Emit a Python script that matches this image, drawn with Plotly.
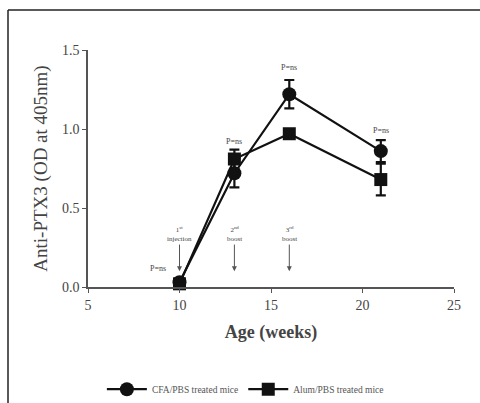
import plotly.graph_objects as go

weeks = [10, 13, 16, 21]
cfa_values = [0.03, 0.72, 1.22, 0.86]
cfa_errors = [0.02, 0.09, 0.09, 0.07]
alum_values = [0.02, 0.81, 0.97, 0.68]
alum_errors = [0.01, 0.06, 0.03, 0.10]
series_names = ["CFA/PBS treated mice", "Alum/PBS treated mice"]

p_labels = ["P=ns", "P=ns", "P=ns", "P=ns"]
p_label_x = [8.8, 13.0, 16.0, 21.0]
p_label_y = [0.12, 0.92, 1.39, 0.99]

event_weeks = [10, 13, 16]
event_labels = ["1<sup>st</sup><br>injection", "2<sup>nd</sup><br>boost", "3<sup>rd</sup><br>boost"]

x_ticks = [5, 10, 15, 20, 25]
y_ticks = [0.0, 0.5, 1.0, 1.5]

FONT = "Liberation Serif"

fig = go.Figure()
fig.add_trace(go.Scatter(
    x=weeks, y=cfa_values, name=series_names[0], mode="lines+markers",
    line=dict(color="#111", width=2.2),
    marker=dict(symbol="circle", size=14, color="#111"),
    error_y=dict(type="data", array=cfa_errors, color="#111", thickness=2.2, width=5),
    cliponaxis=False,
))
fig.add_trace(go.Scatter(
    x=weeks, y=alum_values, name=series_names[1], mode="lines+markers",
    line=dict(color="#111", width=2.2),
    marker=dict(symbol="square", size=13, color="#111"),
    error_y=dict(type="data", array=alum_errors, color="#111", thickness=2.2, width=5),
    cliponaxis=False,
))

annotations = []
for x, y, t in zip(p_label_x, p_label_y, p_labels):
    annotations.append(dict(x=x, y=y, xref="x", yref="y", text=t, showarrow=False,
                            font=dict(family=FONT, size=8, color="#444")))
for x, t in zip(event_weeks, event_labels):
    annotations.append(dict(x=x, y=0.10, ax=x, ay=0.335, xref="x", yref="y",
                            axref="x", ayref="y", text=t, showarrow=True,
                            font=dict(family=FONT, size=7, color="#444"),
                            arrowhead=2, arrowsize=1, arrowwidth=1, arrowcolor="#555"))

fig.update_layout(
    width=480, height=403,
    margin=dict(l=88, r=26, t=50, b=116, autoexpand=False),
    paper_bgcolor="white", plot_bgcolor="white",
    font=dict(family=FONT, color="#333"),
    showlegend=True,
    legend=dict(orientation="h", x=0.43, xanchor="center", y=-0.37, yanchor="top",
                font=dict(family=FONT, size=9.5, color="#555"), itemwidth=40,
                tracegroupgap=20),
    annotations=annotations,
    shapes=[
        dict(type="line", xref="paper", yref="paper",
             x0=(8 - 88) / 366, x1=(480 - 88) / 366,
             y0=(287 - 10) / 237, y1=(287 - 10) / 237,
             line=dict(color="#222", width=1.5)),
        dict(type="line", xref="paper", yref="paper",
             x0=(8 - 88) / 366, x1=(8 - 88) / 366,
             y0=(287 - 10) / 237, y1=(287 - 403) / 237,
             line=dict(color="#222", width=1.5)),
    ],
)
fig.update_xaxes(
    range=[5, 25], tickvals=x_ticks, showgrid=False, zeroline=False,
    showline=True, linecolor="#555", linewidth=1.5,
    ticks="outside", ticklen=4, tickcolor="#555",
    tickfont=dict(family=FONT, size=14, color="#444"),
    title=dict(text="<b>Age (weeks)</b>", font=dict(family=FONT, size=18, color="#444"), standoff=14),
)
fig.update_yaxes(
    range=[0, 1.5], tickvals=y_ticks, tickformat=".1f", showgrid=False, zeroline=False,
    showline=True, linecolor="#555", linewidth=1.5,
    ticks="outside", ticklen=4, tickcolor="#555",
    tickfont=dict(family=FONT, size=14, color="#444"),
    title=dict(text="Anti-PTX3 (OD at 405nm)", font=dict(family=FONT, size=19, color="#444"), standoff=9),
)

fig.write_html(
    "out.html", config={"displayModeBar": False},
    post_script=("document.documentElement.style.overflow='hidden';"
                 "document.body.style.overflow='hidden';"
                 "document.body.style.margin='0';"),
)
